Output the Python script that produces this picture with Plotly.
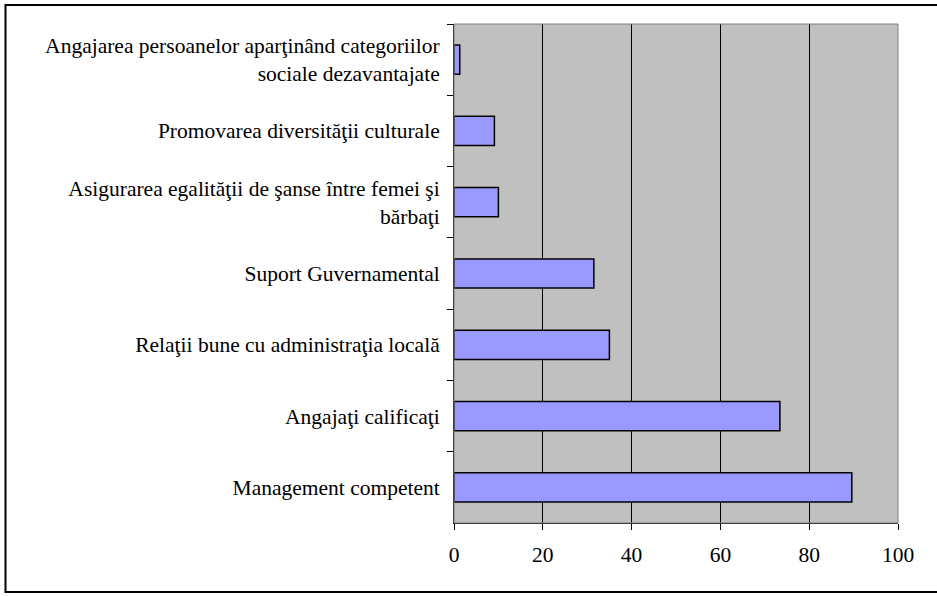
import plotly.graph_objects as go

categories = [
    "Angajarea persoanelor aparţinând categoriilor<br>sociale dezavantajate",
    "Promovarea diversităţii culturale",
    "Asigurarea egalităţii de şanse între femei şi<br>bărbaţi",
    "Suport Guvernamental",
    "Relaţii bune cu administraţia locală",
    "Angajaţi calificaţi",
    "Management competent",
]
values = [1.3, 9.1, 10.0, 31.5, 35.0, 73.4, 89.6]
x_ticks = [0, 20, 40, 60, 80, 100]

W, H = 937, 596
L, R, T, B = 454, 39, 24, 73
pw, ph = W - L - R, H - T - B

def px_x(p):
    return (p - L) / pw

def px_y(p):
    return (H - B - p) / ph

fig = go.Figure(go.Bar(
    x=values, y=categories, orientation="h",
    marker=dict(color="#9999FF", line=dict(color="black", width=1.5)),
    width=0.41,
))

font = dict(family="Liberation Serif, Times New Roman, serif", size=21.5, color="black")

fig.update_layout(
    width=W, height=H,
    margin=dict(l=L, r=R, t=T, b=B, autoexpand=False),
    paper_bgcolor="white", plot_bgcolor="#C0C0C0",
    showlegend=False,
    font=font,
    bargap=0.59,
    hovermode=False,
    xaxis=dict(
        range=[0, 100], tickvals=x_ticks, ticktext=[str(v) for v in x_ticks],
        showgrid=True, gridcolor="black", gridwidth=1,
        showline=True, linecolor="black", linewidth=1,
        ticks="outside", ticklen=6, tickcolor="black",
        ticklabelstandoff=6, zeroline=False, fixedrange=True,
    ),
    yaxis=dict(
        type="category", autorange="reversed",
        showgrid=False, showline=True, linecolor="black", linewidth=1,
        ticks="outside", ticklen=6, tickcolor="black", tickson="boundaries",
        ticklabelstandoff=9, fixedrange=True,
    ),
    shapes=[
        dict(type="rect", xref="paper", yref="paper", x0=0, x1=1, y0=0, y1=1,
             line=dict(color="#808080", width=1), layer="above"),
        dict(type="rect", xref="paper", yref="paper",
             x0=px_x(5.5), x1=px_x(940), y0=px_y(592), y1=px_y(5),
             line=dict(color="black", width=2)),
    ],
)

fig.write_html(
    "out.html",
    config={"displayModeBar": False, "staticPlot": True},
    post_script="document.body.style.margin='0';document.body.style.overflow='hidden';",
)
